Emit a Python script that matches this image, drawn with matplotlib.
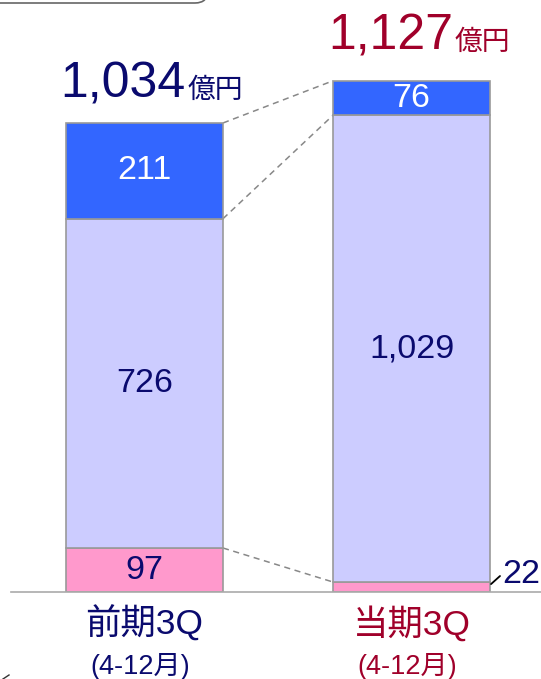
import matplotlib
matplotlib.use("Agg")
import matplotlib.pyplot as plt
from matplotlib.patches import FancyBboxPatch
from matplotlib.lines import Line2D
import numpy as np

plt.rcParams['font.family'] = ['Liberation Sans', 'Noto Sans CJK JP', 'DejaVu Sans']

# ---- data ----
categories = ["前期3Q", "当期3Q"]
periods = ["(4-12月)", "(4-12月)"]
bottom_seg = [97, 22]      # pink
middle_seg = [726, 1029]   # lavender
top_seg = [211, 76]        # blue
totals = ["1,034", "1,127"]
unit = "億円"

NAVY = "#0A0A6E"
RED = "#A0002A"
BLUE = "#3366FF"
LAV = "#CCCCFF"
PINK = "#FF99CC"
EDGE = "#999999"

W, H = 541, 679
fig = plt.figure(figsize=(W / 100, H / 100), dpi=100)
base_px = 592
scale = 0.4536  # px per unit
ax = fig.add_axes([0, (H - base_px) / H, 1, base_px / H])
ax.set_ylim(0, base_px / scale)
spacing = 267.0
width = 157 / spacing
ax.set_xlim(-144.5 / spacing, 1 + (W - 411.5) / spacing)
ax.axis('off')

x = np.arange(len(categories))
b = np.array(bottom_seg)
m = np.array(middle_seg)
t = np.array(top_seg)

ax.bar(x, b, width, color=PINK, edgecolor=EDGE, linewidth=1.2, zorder=3)
ax.bar(x, m, width, bottom=b, color=LAV, edgecolor=EDGE, linewidth=1.2, zorder=3)
ax.bar(x, t, width, bottom=b + m, color=BLUE, edgecolor=EDGE, linewidth=1.2, zorder=3)

# baseline
ax.axhline(0, xmin=11 / W, xmax=1, color="#AAAAAA", linewidth=1.2, zorder=4, clip_on=False)

# connector dashed lines
lvls0 = [b[0], b[0] + m[0], b[0] + m[0] + t[0]]
lvls1 = [b[1], b[1] + m[1], b[1] + m[1] + t[1]]
for y0, y1 in zip(lvls0, lvls1):
    ax.plot([x[0] + width / 2, x[1] - width / 2], [y0, y1], color="#888888",
            linestyle=(0, (4, 3)), linewidth=1.1, zorder=2)

# segment labels
fs = 24.5
ax.text(x[0], b[0] / 2, f"{bottom_seg[0]}", ha='center', va='center', fontsize=fs, color=NAVY, zorder=5)
for i in range(2):
    ax.text(x[i], b[i] + m[i] / 2, f"{middle_seg[i]:,}", ha='center', va='center', fontsize=fs, color=NAVY, zorder=5)
    ax.text(x[i], b[i] + m[i] + t[i] / 2, f"{top_seg[i]}", ha='center', va='center', fontsize=fs, color='white', zorder=5)

# small value 22 with leader
anchor = (x[1] + width / 2, b[1] * 0.7)
ax.annotate("", xy=anchor, xytext=(10, 9), textcoords='offset pixels',
            arrowprops=dict(arrowstyle='-', color='black', lw=1.3, shrinkA=0, shrinkB=1), zorder=5)
ax.annotate(f"{bottom_seg[1]}", xy=anchor, xytext=(12, 2),
            textcoords='offset pixels', ha='left', va='baseline', fontsize=fs, color=NAVY, zorder=5)

# totals
tot_vals = b + m + t
offs = [25, 31]
tcolors = [NAVY, RED]
joins = [0.152, 0.155]
for i in range(2):
    ax.annotate(totals[i], xy=(x[i] + joins[i], tot_vals[i]), xytext=(0, offs[i]),
                textcoords='offset pixels', ha='right', va='baseline', fontsize=36,
                color=tcolors[i], annotation_clip=False)
    ax.annotate(unit, xy=(x[i] + joins[i], tot_vals[i]), xytext=(2, offs[i]),
                textcoords='offset pixels', ha='left', va='baseline', fontsize=20,
                color=tcolors[i], annotation_clip=False)

# category labels
for i in range(2):
    ax.annotate(categories[i], xy=(x[i], 0), xytext=(0, -32), textcoords='offset pixels',
                ha='center', va='center', fontsize=25.5, color=tcolors[i], annotation_clip=False)
    ax.annotate(periods[i], xy=(x[i] - 0.015, 0), xytext=(0, -74), textcoords='offset pixels',
                ha='center', va='center', fontsize=19.5, color=tcolors[i], annotation_clip=False)

# decorative rounded frame at top-left
frame = FancyBboxPatch((-0.3, (H - 3) / 100), 2.38, 1.0,
                       boxstyle="round,pad=0,rounding_size=0.13",
                       transform=fig.dpi_scale_trans, facecolor='none',
                       edgecolor='#666666', linewidth=1.2, clip_on=False)
fig.patches.append(frame)

# small stray mark at bottom-left
fig.lines.append(Line2D([3 / W, 9 / W], [0.0, 4 / H], transform=fig.transFigure,
                        color='#333333', linewidth=1.0))

fig.savefig("out.png", dpi=100)
